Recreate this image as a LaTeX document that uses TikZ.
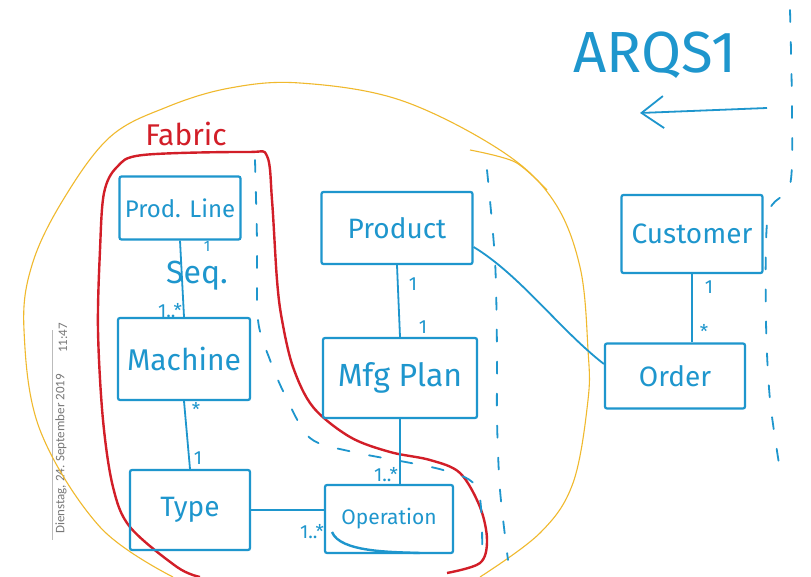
\documentclass[tikz,border=0pt]{standalone}
\usepackage{fontspec}
\setmainfont{Fira Sans}
\newfontfamily\sidefont{Carlito}
\usetikzlibrary{arrows.meta}
\definecolor{skyb}{RGB}{30,150,205}
\definecolor{inkred}{RGB}{210,30,40}
\definecolor{goldline}{RGB}{240,185,45}
\definecolor{sidegray}{RGB}{120,120,120}
\begin{document}
\begin{tikzpicture}[x=1pt,y=-1pt,
  box/.style={draw=skyb, line width=2.2pt, rounded corners=2pt, text=skyb, inner sep=0pt},
  lab/.style={text=skyb, font=\fontsize{19}{20}\selectfont, inner sep=1pt},
  conn/.style={draw=skyb, line width=1.8pt},
  divider/.style={draw=skyb, line width=1.8pt, dash pattern=on 12pt off 20pt, line cap=round},
  outline/.style={draw=inkred, line width=2.4pt, line join=round},
  boundary/.style={draw=goldline, line width=1.1pt}]
\path[use as bounding box, fill=white] (0,0) rectangle (811,577);

% sidebar
\draw[sidegray!50, line width=0.8pt] (52,330) -- (52,540);
\node[rotate=90, text=sidegray, font=\sidefont\fontsize{13}{15}\selectfont] (date) at (61,454) {Dienstag, 24. September 2019};
\node[rotate=90, text=sidegray, font=\sidefont\fontsize{13}{15}\selectfont] (time) at (63,338) {11:47};

% yellow boundary
\draw[boundary] plot[smooth, tension=0.6] coordinates {(480,577) (540,533) (573,483) (588,400) (588,350) (580,267) (553,200) (500,150) (400,100) (300,83) (230,88) (167,107) (110,137) (63,200) (32,265) (24,330) (40,430) (100,527) (173,577)};
\draw[boundary] plot[smooth] coordinates {(470,150) (515,162) (547,190)};

% red Fabric outline
\draw[outline] plot[smooth, tension=0.55] coordinates {(200,577) (177,567) (130,527) (113,487) (103,420) (98,330) (100,250) (104,193) (117,167) (143,155) (247,152) (267,156) (272,200) (277,280) (282,320) (293,367) (313,407) (350,437) (390,452) (430,460) (460,473) (480,507) (487,540) (480,563) (447,573)};
\node[text=inkred, font=\fontsize{30}{32}\selectfont] (fabric) at (186,134) {Fabric};

% dashed dividers
\draw[divider] plot[smooth] coordinates {(255,160) (257,240) (258,320) (270,360) (285,395) (310,438) (353,452) (443,470) (478,490) (482,560)};
\draw[divider] plot[smooth] coordinates {(487,170) (495,260) (497,350) (497,420) (500,490) (508,560)};
\draw[divider] plot[smooth] coordinates {(790,10) (792,110) (790,185) (768,215) (766,320) (770,400) (780,470)};

% classes
\node[box, minimum width=121pt, minimum height=63pt, font=\fontsize{24}{28}\selectfont] (pl) at (180,208) {Prod. Line};
\node[box, minimum width=132pt, minimum height=82pt, font=\fontsize{30}{34}\selectfont] (mach) at (184,359) {Machine};
\node[box, minimum width=120pt, minimum height=80pt, font=\fontsize{28}{32}\selectfont] (type) at (190,510) {Type};
\node[box, minimum width=151pt, minimum height=72pt, font=\fontsize{28}{32}\selectfont] (prod) at (397,228) {Product};
\node[box, minimum width=154pt, minimum height=80pt, font=\fontsize{32}{36}\selectfont] (mfg) at (400,378) {Mfg Plan};
\node[box, minimum width=128pt, minimum height=68pt, font=\fontsize{21}{25}\selectfont] (op) at (389,519) {Operation};
\node[box, minimum width=141pt, minimum height=78pt, font=\fontsize{28}{32}\selectfont] (cust) at (692,234) {Customer};
\node[box, minimum width=140pt, minimum height=65pt, font=\fontsize{28}{32}\selectfont] (ord) at (675,376) {Order};

% connectors
\draw[conn] (pl.south) -- (mach.north);
\draw[conn] (mach.south) -- (type.north);
\draw[conn] (prod.south) -- (mfg.north);
\draw[conn] (mfg.south) -- (mfg.south |- op.north);
\draw[conn] (type.east) -- (type.east -| op.west);
\draw[conn] (cust.south) -- (cust.south |- ord.north);
\draw[conn] ([yshift=-19pt]prod.east) .. controls (520,275) and (560,330) .. ([yshift=12pt]ord.west);
\draw[conn, line width=2.4pt] (332,532) .. controls (340,552) and (390,552) .. (420,553);

% labels
\node[text=skyb, font=\fontsize{32}{34}\selectfont, inner sep=0pt] (seq) at (197,276) {Seq.};
\node[lab, font=\fontsize{15}{16}\selectfont] (m1) at (207,246) {1};
\node[lab] (m2) at (170,311) {1..*};
\node[lab] (m3) at (196,409) {*};
\node[lab] (m4) at (198,458) {1};
\node[lab] (m5) at (413,284) {1};
\node[lab] (m6) at (423,327) {1};
\node[lab] (m7) at (386,475) {1..*};
\node[lab] (m8) at (312,532) {1..*};
\node[lab] (m9) at (709,287) {1};
\node[lab] (m10) at (704,331) {*};

% ARQS1 and arrow
\node[text=skyb, font=\fontsize{58}{62}\selectfont] (arqs) at (655,55) {ARQS1};
\coordinate (arrR) at (767,108);
\coordinate (arrL) at (640,113);
\draw[conn, -{Straight Barb[length=22pt, width=32pt, line width=1.8pt]}] (arrR) -- (arrL);
\end{tikzpicture}
\end{document}
